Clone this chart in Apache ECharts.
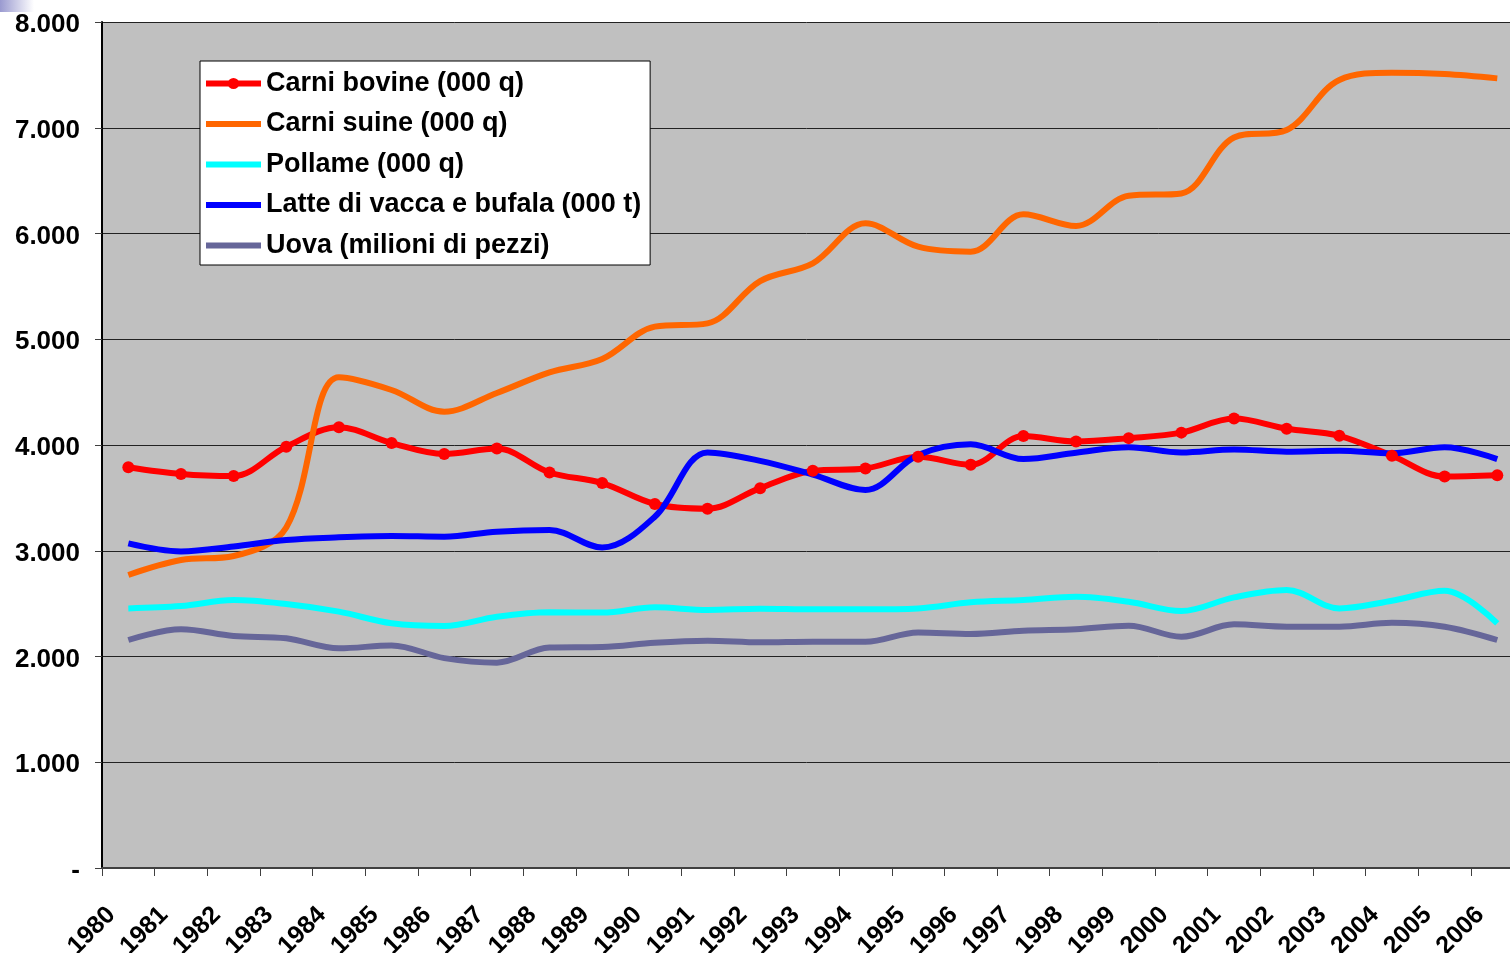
<!DOCTYPE html>
<html>
<head>
<meta charset="utf-8">
<title>Produzioni zootecniche 1980-2006</title>
<script src="https://cdn.jsdelivr.net/npm/echarts@6/dist/echarts.min.js"></script>
<style>
  html, body { margin: 0; padding: 0; background: #fff; }
  #main { width: 1510px; height: 953px; }
</style>
</head>
<body>
<div id="main"></div>
<script>
// anni (categorie asse x)
const years = ['1980', '1981', '1982', '1983', '1984', '1985', '1986', '1987', '1988', '1989',
  '1990', '1991', '1992', '1993', '1994', '1995', '1996', '1997', '1998', '1999',
  '2000', '2001', '2002', '2003', '2004', '2005', '2006']

// etichette asse y
const yTickLabels = ['-', '1.000', '2.000', '3.000', '4.000', '5.000', '6.000', '7.000', '8.000']

// serie
const carniBovine = [3790, 3726, 3707, 3984, 4168, 4018, 3915, 3966, 3740, 3640,
  3442, 3398, 3592, 3756, 3778, 3889, 3813, 4085, 4033, 4065,
  4117, 4250, 4154, 4087, 3898, 3702, 3714]
const carniSuine = [2771, 2912, 2950, 3220, 4640, 4520, 4315, 4492, 4687, 4813,
  5119, 5150, 5550, 5718, 6096, 5875, 5828, 6181, 6071, 6357,
  6379, 6908, 6979, 7452, 7521, 7508, 7467]
const pollame = [2455, 2477, 2534, 2496, 2424, 2314, 2288, 2376, 2418, 2415,
  2465, 2440, 2452, 2446, 2446, 2455, 2512, 2534, 2565, 2518,
  2430, 2559, 2629, 2455, 2527, 2621, 2314]
const latte = [3070, 2994, 3040, 3102, 3127, 3139, 3133, 3180, 3196, 3030,
  3322, 3930, 3850, 3720, 3575, 3905, 4006, 3867, 3927, 3978,
  3930, 3958, 3937, 3946, 3921, 3978, 3867]
const uova = [2156, 2257, 2194, 2172, 2077, 2105, 1985, 1942, 2085, 2090,
  2131, 2150, 2134, 2140, 2140, 2228, 2213, 2244, 2257, 2291,
  2187, 2304, 2282, 2282, 2319, 2282, 2156]

const FONT = '"Liberation Sans", Arial, sans-serif'

const chart = echarts.init(document.getElementById('main'))

function lineSeries(name, data, color, withMarker) {
  return {
    name: name,
    type: 'line',
    data: data,
    smooth: 0.35,
    symbol: withMarker ? 'circle' : 'none',
    symbolSize: 12,
    showSymbol: withMarker,
    itemStyle: { color: color },
    lineStyle: { color: color, width: 6 },
    emphasis: { disabled: true },
    animation: false
  }
}

const option = {
  backgroundColor: '#ffffff',
  textStyle: { fontFamily: FONT },
  graphic: [
    {
      type: 'rect',
      left: 0,
      top: 0,
      shape: { width: 34, height: 12 },
      style: {
        fill: new echarts.graphic.LinearGradient(0, 0, 1, 0, [
          { offset: 0, color: '#9a9ad0' },
          { offset: 1, color: '#ffffff' }
        ])
      },
      silent: true
    }
  ],
  legend: {
    orient: 'vertical',
    left: 200,
    top: 61,
    backgroundColor: '#ffffff',
    borderColor: '#000000',
    borderWidth: 1,
    padding: [9, 9, 6, 3],
    itemWidth: 55,
    itemHeight: 14,
    itemGap: 13.5,
    lineStyle: { width: 6 },
    textStyle: {
      fontFamily: FONT,
      fontWeight: 'bold',
      fontSize: 27,
      lineHeight: 24,
      color: '#000000'
    },
    selectedMode: false,
    data: [
      { name: 'Carni bovine (000 q)' },
      { name: 'Carni suine (000 q)', itemStyle: { opacity: 0 } },
      { name: 'Pollame (000 q)', itemStyle: { opacity: 0 } },
      { name: 'Latte di vacca e bufala (000 t)', itemStyle: { opacity: 0 } },
      { name: 'Uova (milioni di pezzi)', itemStyle: { opacity: 0 } }
    ]
  },
  grid: {
    left: 102,
    top: 22,
    width: 1421.6,
    height: 846,
    outerBoundsMode: 'none',
    show: true,
    backgroundColor: '#c0c0c0',
    borderWidth: 0
  },
  xAxis: {
    type: 'category',
    data: years,
    boundaryGap: true,
    axisLine: { show: true, lineStyle: { color: '#404040', width: 2 } },
    axisTick: { show: true, length: 8, interval: 0, lineStyle: { color: '#404040', width: 1 } },
    axisLabel: {
      interval: 0,
      rotate: 45,
      margin: 26,
      padding: [0, 24, 0, 0],
      fontFamily: FONT,
      fontWeight: 'bold',
      fontSize: 25,
      color: '#000000'
    },
    splitLine: { show: false }
  },
  yAxis: {
    type: 'value',
    min: 0,
    max: 8000,
    interval: 1000,
    axisLine: { show: true, lineStyle: { color: '#000000', width: 2 } },
    axisTick: { show: true, length: 7, lineStyle: { color: '#404040', width: 1 } },
    axisLabel: {
      margin: 22,
      fontFamily: FONT,
      fontWeight: 'bold',
      fontSize: 26,
      color: '#000000',
      formatter: function (v) { return '{t|' + yTickLabels[Math.round(v / 1000)] + '}' },
      rich: {
        t: {
          fontFamily: FONT,
          fontWeight: 'bold',
          fontSize: 26,
          color: '#000000',
          padding: [6, 0, 0, 0]
        }
      }
    },
    splitLine: { show: true, lineStyle: { color: '#222222', width: 1 } }
  },
  series: [
    lineSeries('Carni bovine (000 q)', carniBovine, '#ff0000', true),
    lineSeries('Carni suine (000 q)', carniSuine, '#ff6600', false),
    lineSeries('Pollame (000 q)', pollame, '#00ffff', false),
    lineSeries('Latte di vacca e bufala (000 t)', latte, '#0000ff', false),
    lineSeries('Uova (milioni di pezzi)', uova, '#666699', false)
  ]
}

chart.setOption(option)
</script>
</body>
</html>
